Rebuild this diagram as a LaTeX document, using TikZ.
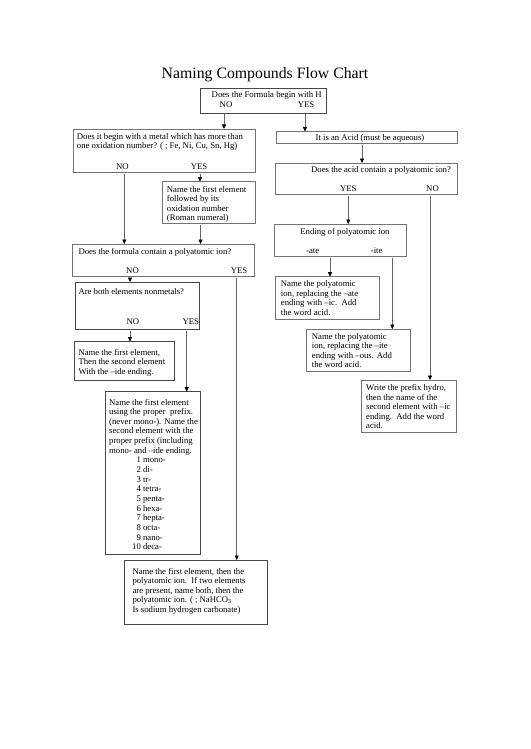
\documentclass[tikz,border=0pt]{standalone}
\usepackage{fontspec}
\setmainfont{Liberation Serif}
\usetikzlibrary{arrows.meta}

\begin{document}
\begin{tikzpicture}[x=1pt, y=-1pt,
    box/.style={draw=black!55, line width=0.7pt, inner sep=0pt, outer sep=0pt, anchor=north west},
    heavybox/.style={box, draw=black!72, line width=0.95pt},
    txt/.style={inner sep=0pt, anchor=north west, align=left, font=\fontsize{8.7}{9.5}\selectfont},
    lbl/.style={inner sep=0pt, anchor=base, font=\fontsize{8.7}{9.5}\selectfont},
    arr/.style={draw=black!60, line width=0.7pt, shorten <=1.5pt, -{Triangle[length=4.5pt, width=4pt, color=black]}}
    ]
    \useasboundingbox (0,0) rectangle (530,749);
    \node[anchor=base, inner sep=0pt, font=\fontsize{15.8}{18}\selectfont] (title) at (265,78.3) {Naming Compounds Flow Chart};

    \node[heavybox, minimum width=126pt, minimum height=25pt] (formula) at (200,88) {};
    \node[lbl] (formulaT) at (266.7,98) {Does the Formula begin with H};
    \node[lbl] (formulaNo) at (226,107.3) {NO};
    \node[lbl] (formulaYes) at (306,107.3) {YES};

    \node[box, minimum width=182pt, minimum height=43pt] (metal) at (73,129) {};
    \node[txt] (metalT) at (76.7,133) {Does it begin with a metal which has more than\\one oxidation number? ( ; Fe, Ni, Cu, Sn, Hg)};
    \node[lbl] (metalNo) at (122.5,169.7) {NO};
    \node[lbl] (metalYes) at (199,169.7) {YES};

    \node[box, minimum width=93.4pt, minimum height=41.6pt] (roman) at (162.3,181.7) {};
    \node[txt] (romanT) at (166.7,186) {Name the first element\\followed by its\\oxidation number\\(Roman numeral)};

    \node[box, minimum width=181.6pt, minimum height=32pt] (poly) at (72.7,244) {};
    \node[txt] (polyT) at (78.3,248) {Does the formula contain a polyatomic ion?};
    \node[lbl] (polyNo) at (132.5,273) {NO};
    \node[lbl] (polyYes) at (239,273) {YES};

    \node[heavybox, minimum width=124pt, minimum height=47.3pt] (nonmet) at (75,282) {};
    \node[txt] (nonmetT) at (78.3,288.7) {Are both elements nonmetals?};
    \node[lbl] (nonmetNo) at (132.8,324.7) {NO};
    \node[lbl] (nonmetYes) at (190.8,324.7) {YES};

    \node[heavybox, minimum width=100pt, minimum height=38.3pt] (ide) at (74.3,341.7) {};
    \node[txt] (ideT) at (78.3,349) {Name the first element,\\Then the second element\\With the –ide ending.};

    \node[heavybox, minimum width=94.3pt, minimum height=162.3pt] (prefix) at (105.7,391.7) {};
    \node[txt, font=\fontsize{8.7}{9.65}\selectfont] (prefixT) at (109,398.7) {Name the first element\\using the proper\ \ prefix.\\(never mono-). Name the\\second element with the\\proper prefix (including\\mono- and –ide ending.\\
      \hspace*{31.7pt}\llap{1} mono-\\\hspace*{31.7pt}\llap{2} di-\\\hspace*{31.7pt}\llap{3} tr-\\\hspace*{31.7pt}\llap{4} tetra-\\\hspace*{31.7pt}\llap{5} penta-\\
      \hspace*{31.7pt}\llap{6} hexa-\\\hspace*{31.7pt}\llap{7} hepta-\\\hspace*{31.7pt}\llap{8} octa-\\\hspace*{31.7pt}\llap{9} nano-\\\hspace*{31.7pt}\llap{10} deca-};

    \node[heavybox, minimum width=143.7pt, minimum height=64.3pt] (ionic) at (124,560) {};
    \node[txt] (ionicT) at (132.3,567.7) {Name the first element, then the\\polyatomic ion.\ \ If two elements\\are present, name both, then the\\polyatomic ion. ( ; NaHCO\textsubscript{3}\\Is sodium hydrogen carbonate)};

    \node[box, minimum width=181pt, minimum height=11.5pt] (acid) at (276,131.5) {};
    \node[lbl] (acidT) at (370,140.3) {It is an Acid (must be aqueous)};

    \node[box, minimum width=182pt, minimum height=31.5pt] (acidq) at (275,163) {};
    \node[lbl, anchor=base west] (acidqT) at (311,172) {Does the acid contain a polyatomic ion?};
    \node[lbl] (acidqYes) at (348.3,191.3) {YES};
    \node[lbl] (acidqNo) at (432.5,191.3) {NO};

    \node[box, minimum width=132.7pt, minimum height=32pt] (ending) at (274,224) {};
    \node[lbl] (endingT) at (345,234) {Ending of polyatomic ion};
    \node[lbl] (endingAte) at (312.7,253) {-ate};
    \node[lbl] (endingIte) at (376.7,253) {-ite};

    \node[box, minimum width=104.3pt, minimum height=42.6pt] (ate) at (275,276.7) {};
    \node[txt] (ateT) at (280.7,280.3) {Name the polyatomic\\ion, replacing the –ate\\ending with –ic.\ \ Add\\the word acid.};

    \node[box, minimum width=103.3pt, minimum height=42.7pt] (ite) at (306.7,329) {};
    \node[txt] (iteT) at (311.7,333) {Name the polyatomic\\ion, replacing the –ite\\ending with –ous. Add\\the word acid.};

    \node[box, minimum width=95pt, minimum height=52.7pt] (hydro) at (361.7,380) {};
    \node[txt] (hydroT) at (366,384.3) {Write the prefix hydro,\\then the name of the\\second element with –ic\\ending.\ \ Add the word\\acid.};

    \draw[arr] (224,0 |- formula.south) -- (224,0 |- metal.north);
    \draw[arr] (305,0 |- formula.south) -- (305,0 |- acid.north);
    \draw[arr] (124.3,0 |- metal.south) -- (124.3,0 |- poly.north);
    \draw[arr] (200,0 |- metal.south) -- (200,0 |- roman.north);
    \draw[arr] (200.5,0 |- roman.south) -- (200.5,0 |- poly.north);
    \draw[arr] (130,0 |- poly.south) -- (130,0 |- nonmet.north);
    \draw[arr] (236.7,0 |- poly.south) -- (236.7,0 |- ionic.north);
    \draw[arr] (130,0 |- nonmet.south) -- (130,0 |- ide.north);
    \draw[arr] (186.7,0 |- nonmet.south) -- (186.7,0 |- prefix.north);
    \draw[arr] (362,0 |- acid.south) -- (362,0 |- acidq.north);
    \draw[arr] (348.3,0 |- acidq.south) -- (348.3,0 |- ending.north);
    \draw[arr] (430,0 |- acidq.south) -- (430,0 |- hydro.north);
    \draw[arr] (330,0 |- ending.south) -- (330,0 |- ate.north);
    \draw[arr] (392.3,0 |- ending.south) -- (392.3,0 |- ite.north);
  \end{tikzpicture}
\end{document}
